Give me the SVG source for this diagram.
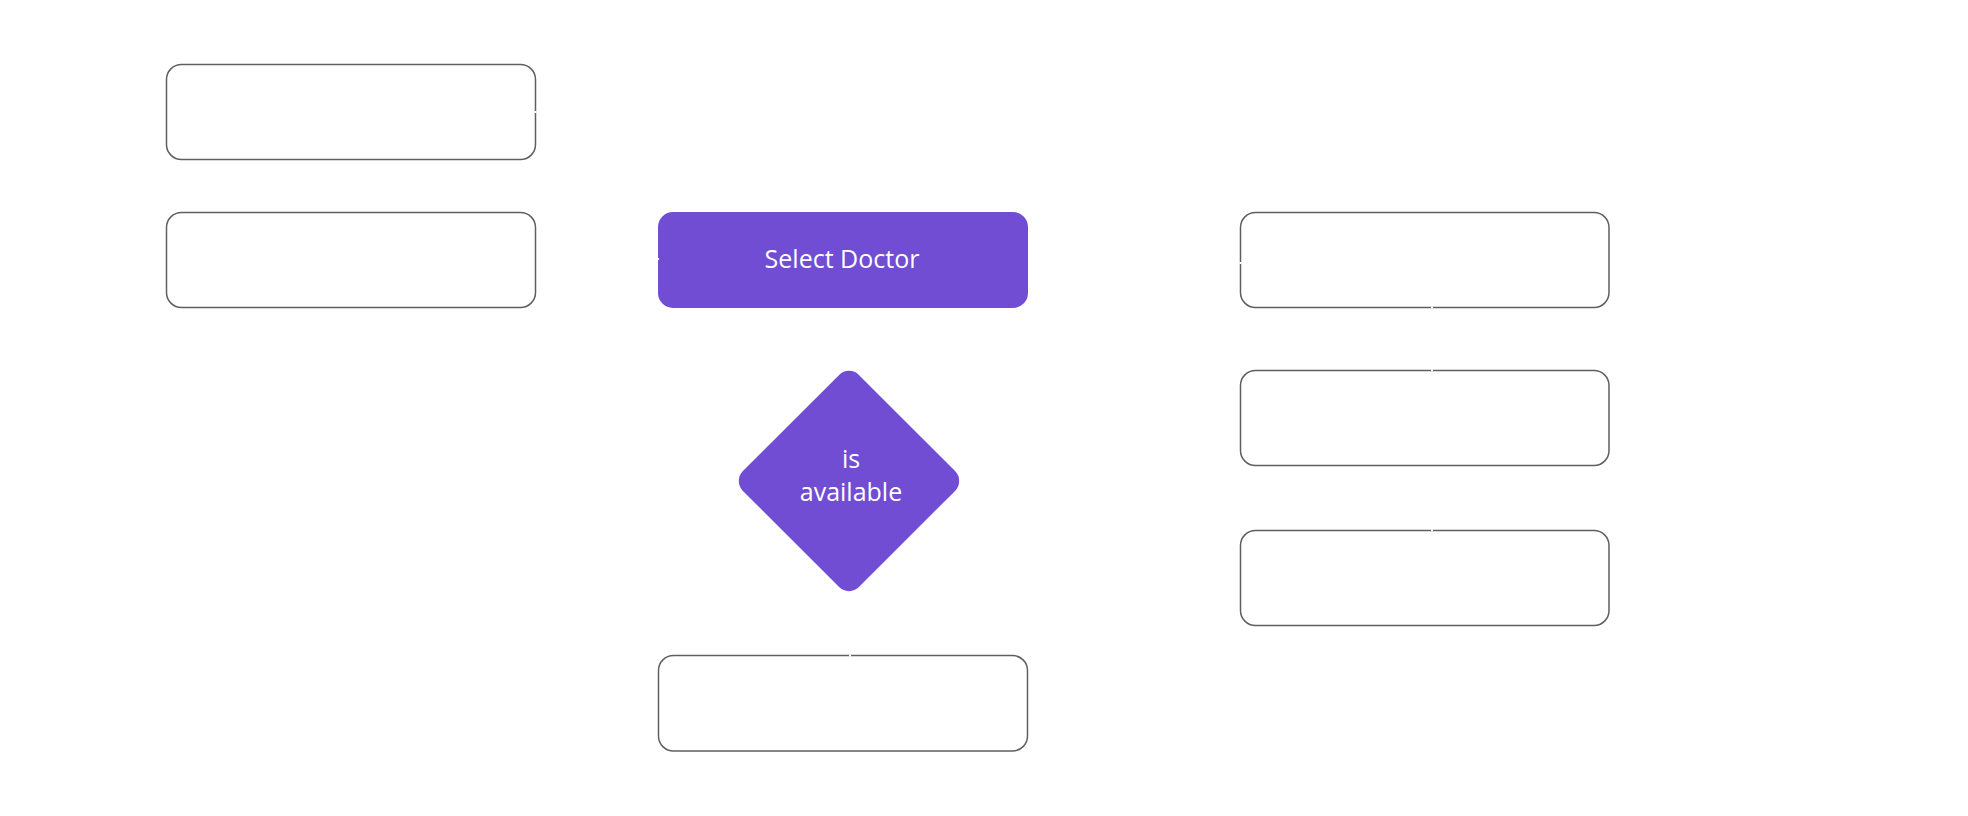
<svg xmlns="http://www.w3.org/2000/svg" width="1968" height="816" viewBox="0 0 1968 816">
<style>
.box{fill:#ffffff;stroke:#5f5f5f;stroke-width:1.5}
.fill{fill:#704dd3}
.lbl{font-family:"Open Sans","Noto Sans",sans-serif;font-size:25px;fill:#ffffff;text-anchor:middle}
.tick{stroke:#ffffff;stroke-width:2;fill:none}
</style>
<rect width="1968" height="816" fill="#ffffff"/>
<g id="node-box1"><rect class="box" x="166.5" y="64.5" width="369" height="95" rx="15"/></g>
<g id="node-box2"><rect class="box" x="166.5" y="212.5" width="369" height="95" rx="15"/></g>
<g id="node-select-doctor"><rect class="fill" x="658" y="212" width="370" height="96" rx="15"/><text class="lbl" x="842" y="268">Select Doctor</text></g>
<g id="node-is-available"><rect class="fill" x="-82" y="-82" width="164" height="164" rx="14" transform="translate(849 481) rotate(45)"/><text class="lbl" x="851" y="468">is</text><text class="lbl" x="851" y="501">available</text></g>
<g id="node-box-bottom"><rect class="box" x="658.5" y="655.5" width="369" height="95.5" rx="15"/></g>
<g id="node-right1"><rect class="box" x="1240.5" y="212.5" width="368.5" height="95" rx="15"/></g>
<g id="node-right2"><rect class="box" x="1240.5" y="370.5" width="368.5" height="95" rx="15"/></g>
<g id="node-right3"><rect class="box" x="1240.5" y="530.5" width="368.5" height="95" rx="15"/></g>
<g id="connectors">
<line class="tick" x1="535.5" y1="111" x2="535.5" y2="113"/>
<line class="tick" x1="658" y1="258" x2="658" y2="260"/>
<line class="tick" x1="1240.5" y1="262" x2="1240.5" y2="264"/>
<line class="tick" x1="1431" y1="307.5" x2="1433" y2="307.5"/>
<line class="tick" x1="1431" y1="370.5" x2="1433" y2="370.5"/>
<line class="tick" x1="1431" y1="530.5" x2="1433" y2="530.5"/>
<line class="tick" x1="849" y1="655.5" x2="851" y2="655.5"/>
</g>
</svg>
